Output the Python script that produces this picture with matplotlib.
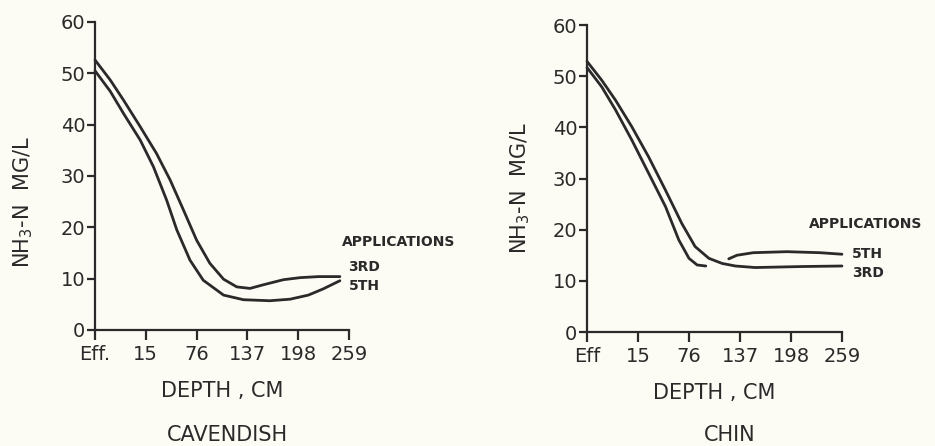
import numpy as np
import matplotlib.pyplot as plt

# depth categories along the x axis (equally spaced)
depth_labels_cav = ['Eff.', '15', '76', '137', '198', '259']
depth_labels_chin = ['Eff', '15', '76', '137', '198', '259']
yticks = [0, 10, 20, 30, 40, 50, 60]

# CAVENDISH - x is in category units
cav_3rd_x = [0, 0.30, 0.56, 0.89, 1.21, 1.48, 1.74, 2.0, 2.26, 2.53, 2.79, 3.05, 3.31, 3.71, 4.04, 4.4, 4.82]
cav_3rd_y = [52.6, 48.7, 44.8, 39.6, 34.4, 29.2, 23.4, 17.5, 13.0, 9.9, 8.4, 8.1, 8.8, 9.8, 10.2, 10.4, 10.4]
cav_5th_x = [0, 0.30, 0.56, 0.89, 1.15, 1.41, 1.61, 1.87, 2.13, 2.53, 2.92, 3.44, 3.84, 4.2, 4.49, 4.82]
cav_5th_y = [50.5, 46.5, 42.2, 37.0, 31.8, 25.3, 19.5, 13.6, 9.7, 6.8, 5.9, 5.7, 6.0, 6.8, 8.0, 9.6]

# CHIN
chin_3rd_x = [0, 0.29, 0.56, 0.88, 1.21, 1.54, 1.86, 2.12, 2.39, 2.65, 2.91, 3.3, 4.24, 5.0]
chin_3rd_y = [52.9, 49.2, 45.3, 40.1, 34.2, 27.7, 21.2, 16.7, 14.4, 13.4, 12.9, 12.6, 12.8, 12.9]
chin_5th_a_x = [0, 0.29, 0.56, 0.88, 1.21, 1.54, 1.80, 2.0, 2.16, 2.33]
chin_5th_a_y = [51.7, 47.9, 43.4, 37.5, 31.0, 24.5, 18.0, 14.4, 13.1, 12.9]
chin_5th_b_x = [2.78, 2.94, 3.26, 3.92, 4.57, 5.0]
chin_5th_b_y = [14.3, 15.0, 15.5, 15.7, 15.5, 15.2]

bg = '#fcfbf4'
ink = '#2a2a2a'

fig = plt.figure(figsize=(9.35, 4.46), dpi=100, facecolor=bg)
ax1 = fig.add_axes([0.1016, 0.2601, 0.2717, 0.6906])
ax2 = fig.add_axes([0.6278, 0.2556, 0.2727, 0.6883])

def style(ax, labels, lab_x, lab_y):
    ax.set_facecolor(bg)
    ax.set_xlim(0, 5)
    ax.set_ylim(0, 60)
    for s in ['top', 'right']:
        ax.spines[s].set_visible(False)
    for s in ['left', 'bottom']:
        ax.spines[s].set_linewidth(1.6)
        ax.spines[s].set_color(ink)
    ax.set_xticks(range(len(labels)))
    ax.set_xticklabels(labels)
    ax.set_yticks(yticks)
    ax.tick_params(axis='x', length=7, width=1.6, pad=4, labelsize=14, colors=ink)
    ax.tick_params(axis='y', length=6, width=1.6, pad=1, labelsize=14, colors=ink)
    ax.set_ylabel('NH$_3$-N  MG/L', fontsize=15, color=ink)
    ax.yaxis.set_label_coords(lab_x, lab_y)
    ax.set_xlabel('DEPTH , CM', fontsize=15, color=ink, labelpad=12)

style(ax1, depth_labels_cav, -0.235, 0.415)
style(ax2, depth_labels_chin, -0.215, 0.47)

lw = 2.0
for ax, xs, ys in [(ax1, cav_3rd_x, cav_3rd_y), (ax1, cav_5th_x, cav_5th_y),
                   (ax2, chin_3rd_x, chin_3rd_y), (ax2, chin_5th_a_x, chin_5th_a_y),
                   (ax2, chin_5th_b_x, chin_5th_b_y)]:
    ax.plot(xs, ys, color=ink, lw=lw, solid_joinstyle='round', solid_capstyle='round', clip_on=False)

# curve labels
ax1.text(4.87, 17.1, 'APPLICATIONS', fontsize=10, fontweight='bold', color=ink, va='center', clip_on=False)
ax1.text(4.99, 12.3, '3RD', fontsize=10, fontweight='bold', color=ink, va='center', clip_on=False)
ax1.text(4.99, 8.6, '5TH', fontsize=10, fontweight='bold', color=ink, va='center', clip_on=False)
ax2.text(4.35, 21.1, 'APPLICATIONS', fontsize=10, fontweight='bold', color=ink, va='center', clip_on=False)
ax2.text(5.2, 15.3, '5TH', fontsize=10, fontweight='bold', color=ink, va='center', clip_on=False)
ax2.text(5.2, 11.6, '3RD', fontsize=10, fontweight='bold', color=ink, va='center', clip_on=False)

fig.text(227 / 935, 1 - 435 / 446, 'CAVENDISH', fontsize=15, color=ink, ha='center', va='center')
fig.text(730 / 935, 1 - 435 / 446, 'CHIN', fontsize=15, color=ink, ha='center', va='center')

fig.savefig('out.png', dpi=100, facecolor=bg)
